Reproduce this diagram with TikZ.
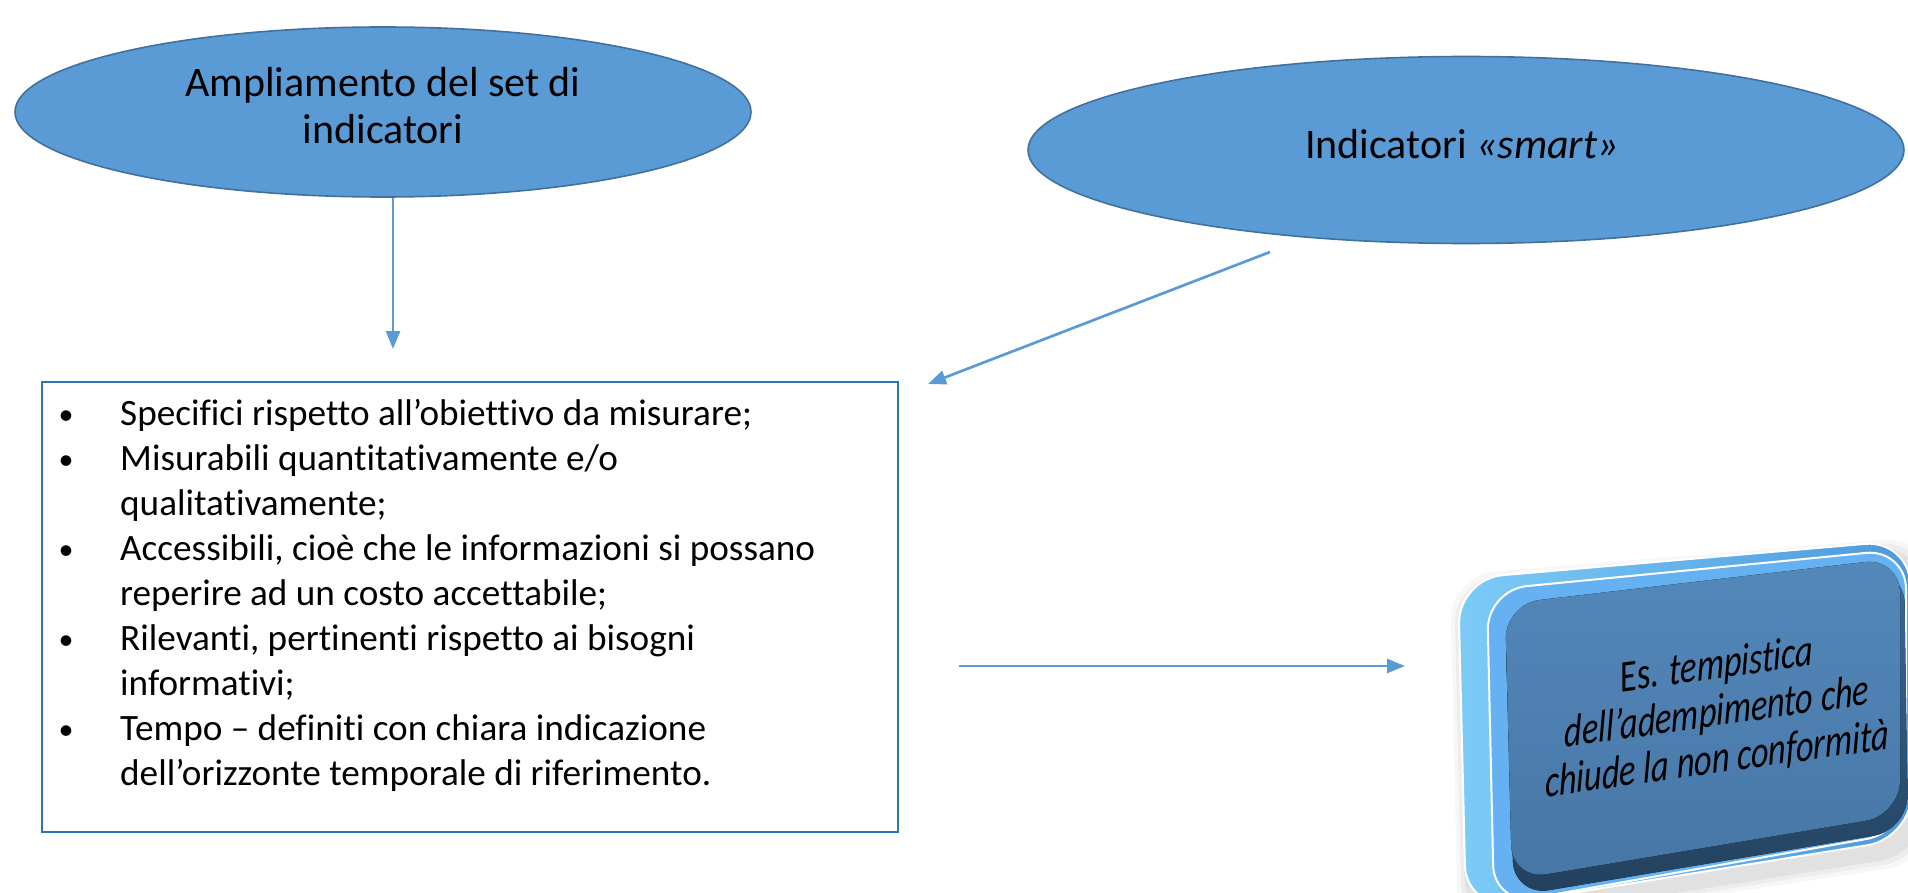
\documentclass[tikz,border=0pt]{standalone}
\usepackage{fontspec}
\setmainfont{Carlito}[Ligatures=CommonOff]
\usetikzlibrary{arrows.meta,shapes.geometric}
\definecolor{ellfill}{HTML}{5B9BD5}
\definecolor{elldraw}{HTML}{41719C}
\definecolor{arrowc}{HTML}{5B9BD5}
\definecolor{boxdraw}{HTML}{2E75B6}
\definecolor{slabL}{HTML}{7CCBF7}
\definecolor{slabR}{HTML}{4E98DC}
\definecolor{rimc}{HTML}{65B1F1}
\definecolor{darkT}{HTML}{3A6A96}
\definecolor{darkB}{HTML}{22405C}
\definecolor{faceT}{HTML}{5488BA}
\definecolor{faceB}{HTML}{4676A6}
\begin{document}
\begin{tikzpicture}[x=1pt,y=-1pt,
  oval/.style={ellipse, fill=ellfill, draw=elldraw, line width=1.6pt, inner sep=0pt},
  ovaltext/.style={align=center, inner sep=0pt, font=\fontsize{42}{47}\selectfont},
  conn/.style={draw=arrowc, line width=2.7pt, -{Triangle[length=18pt,width=14pt]}},
  listline/.style={anchor=base west, inner sep=0pt, font=\fontsize{37.2}{45}\selectfont},
  bul/.style={anchor=base, inner sep=0pt, font=\fontsize{30}{45}\selectfont}
]
\useasboundingbox (0,0) rectangle (1908,893);

% ellipses
\node[oval, minimum width=736pt, minimum height=170pt] (e1) at (383,112) {};
\node[ovaltext] (e1t) at (383,106) {Ampliamento del set di\\indicatori};
\node[oval, minimum width=876pt, minimum height=187pt] (e2) at (1466,150) {};
\node[ovaltext] (e2t) at (1462,144) {Indicatori \textit{«smart»}};

% list box
\node[draw=boxdraw, line width=2pt, minimum width=856pt, minimum height=450pt, anchor=north west, inner sep=0pt] (list) at (41,381) {};
\node[bul] (b1) at (66,424) {•};
\node[bul] (b2) at (66,469) {•};
\node[bul] (b3) at (66,559) {•};
\node[bul] (b4) at (66,649) {•};
\node[bul] (b5) at (66,739) {•};
\node[listline] (l1) at (120,425) {Specifici rispetto all’obiettivo da misurare;};
\node[listline] (l2) at (120,470) {Misurabili quantitativamente e/o};
\node[listline] (l3) at (120,515) {qualitativamente;};
\node[listline] (l4) at (120,560) {Accessibili, cioè che le informazioni si possano};
\node[listline] (l5) at (120,605) {reperire ad un costo accettabile;};
\node[listline] (l6) at (120,650) {Rilevanti, pertinenti rispetto ai bisogni};
\node[listline] (l7) at (120,695) {informativi;};
\node[listline] (l8) at (120,740) {Tempo – definiti con chiara indicazione};
\node[listline] (l9) at (120,785) {dell’orizzonte temporale di riferimento.};

% 3D box
\foreach \d/\o in {14/0.03,10/0.04,6/0.05}{
  \fill[black, opacity=\o, rounded corners=45pt] (1458-\d+6,579-\d+10) -- (1910+\d+6,540-\d+10) -- (1912+\d+6,838+\d+10) -- (1466-\d+6,910+\d+10) -- cycle;
}
\filldraw[draw=white, line width=2pt, rounded corners=45pt, left color=slabL, right color=slabR] (1458,579) -- (1910,540) -- (1912,838) -- (1466,910) -- cycle;
\filldraw[draw=white, line width=2pt, rounded corners=40pt, fill=rimc] (1487,590) -- (1906,549) -- (1906,832) -- (1494,905) -- cycle;
\fill[rounded corners=35pt, top color=darkT, bottom color=darkB] (1505,616) -- (1904,568) -- (1908,830) -- (1514,896) -- cycle;
\fill[rounded corners=35pt, top color=faceT, bottom color=faceB] (1505,604) -- (1900,558) -- (1900,815) -- (1512,880) -- cycle;
\node[rotate=8, yscale=1.3, xslant=0.18, align=center, inner sep=0pt, font=\fontsize{34.5}{36}\selectfont] (note) at (1717,713) {Es. \textit{tempistica}\\\textit{dell’adempimento che}\\\textit{chiude la non conformità}};

% connectors
\coordinate (a1e) at (393,349);
\coordinate (a2s) at (1270,252);
\coordinate (a2e) at (928,384);
\coordinate (a3s) at (959,666);
\coordinate (a3e) at (1405,666);
\draw[conn] (e1.south -| a1e) -- (a1e);
\draw[conn] (a2s) -- (a2e);
\draw[conn] (a3s) -- (a3e);
\end{tikzpicture}
\end{document}
